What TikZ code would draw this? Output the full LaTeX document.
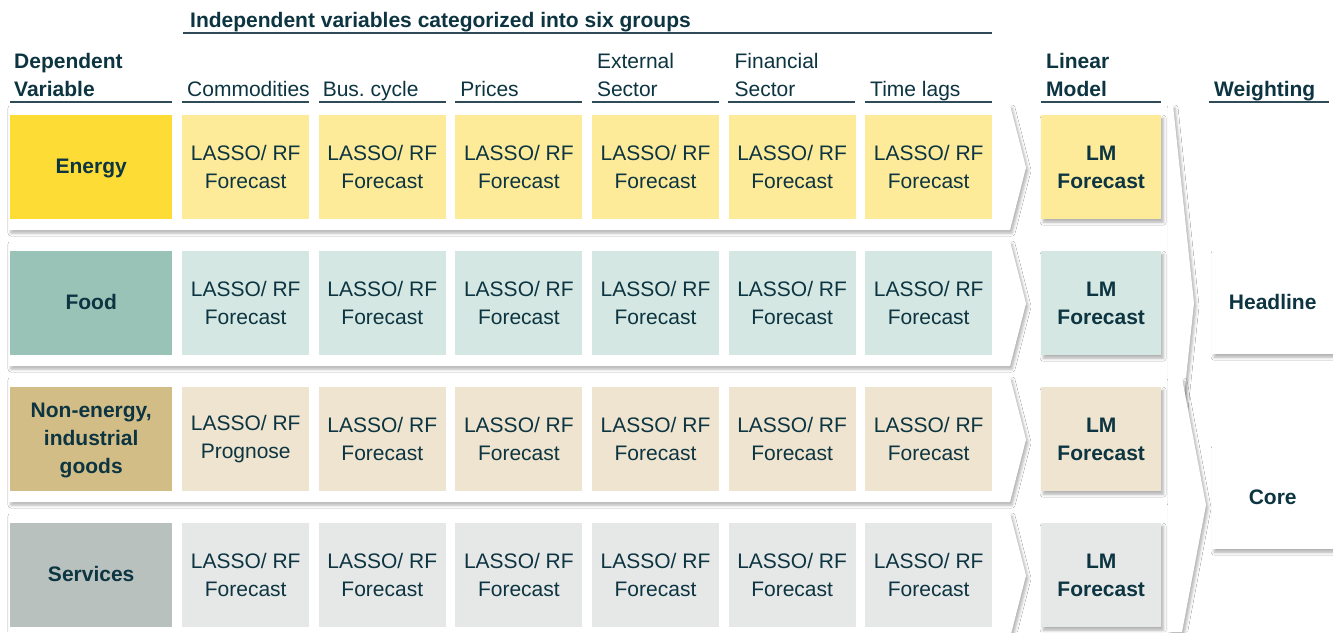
\documentclass[tikz,border=0pt]{standalone}
\usepackage{fontspec}
\setmainfont{Liberation Sans}
\usetikzlibrary{shadows.blur}

\definecolor{ink}{HTML}{0C3441}
\definecolor{rulecol}{HTML}{2E4B57}
% dependent-variable colour / forecast-cell colour per row
\definecolor{energyD}{HTML}{FDDC36}
\definecolor{energyL}{HTML}{FDEB9A}
\definecolor{foodD}{HTML}{98C3B6}
\definecolor{foodL}{HTML}{D4E7E2}
\definecolor{goodsD}{HTML}{D3BD87}
\definecolor{goodsL}{HTML}{EEE4CF}
\definecolor{servD}{HTML}{B8C1BD}
\definecolor{servL}{HTML}{E6E8E7}

\tikzset{
  txt/.style={font=\fontsize{21}{28}\selectfont, text=ink, inner sep=0pt, align=center},
  bold/.style={txt, font=\fontsize{21}{28}\selectfont\bfseries},
  hdr/.style={txt, align=left, anchor=south west, text depth=0pt},
  hdrbold/.style={hdr, font=\fontsize{21}{28}\selectfont\bfseries},
  uline/.style={draw=rulecol, line width=1.4pt},
  softshadow/.style={blur shadow={shadow xshift=2pt, shadow yshift=-3pt,
      shadow blur radius=3pt, shadow opacity=32}},
  panel/.style={fill=white, softshadow},
  cell/.style={txt, anchor=north west, minimum width=127pt, minimum height=104pt},
  depbox/.style={bold, anchor=north west, minimum width=162pt, minimum height=104pt},
  lmbox/.style={bold, anchor=north west, minimum width=120pt, minimum height=104pt, softshadow},
  outbox/.style={bold, fill=white, anchor=north west, minimum width=121pt, minimum height=104pt, softshadow},
}

\begin{document}
\frenchspacing
\begin{tikzpicture}[x=1pt, y=-1pt]
\useasboundingbox[fill=white] (0,0) rectangle (1333,632);

% ---- header row ----
\node[hdrbold, anchor=base west] (title) at (190,27) {Independent variables categorized into six groups};
\draw[uline] (183,33) -- (992,33);

\node[hdrbold] (hdep) at (14,97) {Dependent\\Variable};
\draw[uline] (10,102) -- (172,102);

\foreach \i/\name/\dx in {0/Commodities/5, 1/Bus.\ cycle/4, 2/Prices/5,
                         3/External\\Sector/5, 4/Financial\\Sector/6, 5/Time lags/5} {
  \pgfmathsetmacro{\xl}{182+136.6*\i}
  \node[hdr] (h\i) at (\xl+\dx,97) {\name};
  \draw[uline] (\xl,102) -- (\xl+127,102);
}

\node[hdrbold] (hlm) at (1046,97) {Linear\\Model};
\draw[uline] (1041,102) -- (1161,102);
\node[hdrbold] (hw) at (1214,97) {Weighting};
\draw[uline] (1209,102) -- (1329,102);

% ---- the four rows ----
\foreach \r/\dark/\light/\dep/\second in {
    0/energyD/energyL/Energy/Forecast,
    1/foodD/foodL/Food/Forecast,
    2/goodsD/goodsL/{\baselineskip=27pt Non-energy,\\industrial\\goods}/Prognose,
    3/servD/servL/Services/Forecast} {
  \pgfmathsetmacro{\yt}{105+136*\r}
  \pgfmathsetmacro{\yb}{230+136*\r}
  \pgfmathsetmacro{\ym}{167.5+136*\r}
  \pgfmathsetmacro{\yc}{115+136*\r}
  % white chevron carrying the row
  \fill[panel] (9,\yt) -- (1010,\yt) -- (1026,\ym) -- (1010,\yb) -- (9,\yb) -- cycle;
  \node[depbox, fill=\dark, text depth=2pt] (dep\r) at (10,\yc) {\dep};
  \foreach \i in {0,...,5} {
    \pgfmathsetmacro{\xl}{182+136.6*\i}
    \ifnum\i=0
      \node[cell, fill=\light] (c\r\i) at (\xl,\yc) {LASSO/ RF\\\second};
    \else
      \node[cell, fill=\light] (c\r\i) at (\xl,\yc) {LASSO/ RF\\Forecast};
    \fi
  }
  \node[lmbox, fill=\light] (lm\r) at (1041,\yc) {LM\\Forecast};
}

% ---- weighting chevrons ----
\fill[panel] (1168,105) -- (1173,105) -- (1194,303) -- (1173,500) -- (1168,500) -- cycle;
\fill[panel] (1168,378) -- (1182,378) -- (1206,505) -- (1182,632) -- (1168,632) -- cycle;

\node[outbox] (headline) at (1212,250) {Headline};
\node[outbox] (core) at (1212,445) {Core};
\end{tikzpicture}
\end{document}
